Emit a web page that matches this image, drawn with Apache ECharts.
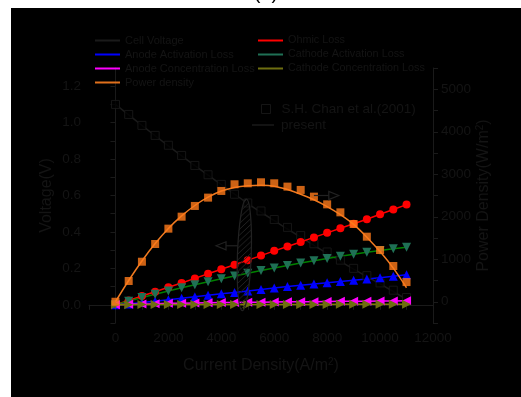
<!DOCTYPE html>
<html>
<head>
<meta charset="utf-8">
<script src="https://cdn.jsdelivr.net/npm/echarts@6/dist/echarts.min.js"></script>
<style>
html,body{margin:0;padding:0;background:#fff;}
#c{width:521px;height:397px;}
</style>
</head>
<body>
<div id="c"></div>
<script>
// ---- data ----
const current = [0,500,1000,1500,2000,2500,3000,3500,4000,4500,5000,5500,6000,6500,7000,7500,8000,8500,9000,9500,10000,10500,11000];
const cellVoltageExp = [1.10,1.045,0.985,0.93,0.876,0.82,0.765,0.714,0.661,0.607,0.559,0.515,0.468,0.425,0.38,0.335,0.29,0.245,0.20,0.16,0.12,0.08,0.04];
const cellVoltageModel = [1.10,1.043,0.985,0.928,0.872,0.818,0.764,0.712,0.66,0.608,0.556,0.508,0.462,0.416,0.372,0.326,0.282,0.238,0.196,0.155,0.115,0.073,0.03];
const ohmicLoss = [0,0.024,0.048,0.072,0.096,0.12,0.145,0.17,0.195,0.22,0.245,0.27,0.296,0.32,0.345,0.37,0.395,0.42,0.445,0.47,0.497,0.523,0.55];
const anodeActLoss = [0,0.005,0.012,0.02,0.028,0.036,0.044,0.052,0.06,0.068,0.076,0.084,0.092,0.1,0.107,0.114,0.121,0.128,0.135,0.142,0.149,0.157,0.165];
const cathodeActLoss = [0,0.02,0.04,0.058,0.076,0.093,0.11,0.127,0.143,0.158,0.173,0.188,0.202,0.216,0.229,0.242,0.254,0.266,0.277,0.288,0.298,0.307,0.316];
const anodeConcLoss = [0,0.003,0.005,0.006,0.008,0.009,0.010,0.011,0.012,0.013,0.014,0.014,0.015,0.016,0.017,0.017,0.018,0.019,0.019,0.020,0.021,0.021,0.022];
const cathodeConcLoss = [0,0,0.001,0.001,0.001,0.001,0.001,0.001,0.002,0.002,0.002,0.002,0.002,0.002,0.002,0.002,0.002,0.003,0.003,0.003,0.003,0.003,0.003];
const powerModel = [0,500,960,1370,1725,2020,2265,2460,2605,2690,2730,2740,2720,2640,2530,2400,2240,2050,1820,1520,1180,790,330];
const powerExp = [0,488,942,1359,1720,2002,2254,2450,2607,2764,2787,2811,2787,2709,2631,2473,2292,2104,1830,1531,1217,841,463];
const xTicks = [0,2000,4000,6000,8000,10000,12000];
const yLeftTicks = [0.0,0.2,0.4,0.6,0.8,1.0,1.2];
const yRightTicks = [0,1000,2000,3000,4000,5000];

(function(){
const pair = arr => current.map((x,i)=>[x,arr[i]]);
const TXT = '#141414';
const AX = '#1a1a1a';
const FONT = 'Liberation Sans, Arial, sans-serif';

const chart = echarts.init(document.getElementById('c'), null, {renderer:'canvas'});

function lineSeries(name, data, color, symbol, rotate, symColor, size){
  return {
    name, type:'line', data: pair(data), yAxisIndex:0,
    symbol, symbolSize: size || 8, symbolRotate: rotate || 0,
    lineStyle:{color, width:1.5}, itemStyle:{color: symColor || color},
    showSymbol: true, animation:false
  };
}

const option = {
  animation:false,
  backgroundColor:'#ffffff',
  textStyle:{fontFamily:FONT},
  grid:{left:89, top:68, width:344, height:255, containLabel:false},
  legend:[
    {data:['Cell Voltage','Anode Activation Loss','Anode Concentration Loss','Power density'],
     orient:'vertical', left:95, top:35, padding:0, itemWidth:25, itemHeight:2, itemGap:3, icon:'rect',
     textStyle:{color:TXT, fontSize:11, fontFamily:FONT, lineHeight:11}, selectedMode:false},
    {data:['Ohmic Loss','Cathode Activation Loss','Cathode Concentration Loss'],
     orient:'vertical', left:258, top:35, padding:0, itemWidth:25, itemHeight:2, itemGap:3, icon:'rect',
     textStyle:{color:TXT, fontSize:10.8, fontFamily:FONT, lineHeight:11}, selectedMode:false},
    {data:[{name:'S.H. Chan et al.(2001)', icon:'rect', itemStyle:{color:'#000', borderColor:AX, borderWidth:1}}],
     left:261, top:102, padding:0, itemWidth:9, itemHeight:9,
     textStyle:{color:TXT, fontSize:13.5, fontFamily:FONT, padding:[0,0,0,6]}, selectedMode:false},
    {data:[{name:'present', icon:'rect'}],
     left:252, top:118, padding:0, itemWidth:22, itemHeight:1.5,
     textStyle:{color:TXT, fontSize:13.5, fontFamily:FONT, padding:[0,0,0,2]}, selectedMode:false}
  ],
  xAxis:{
    type:'value', min:-1000, max:12000, interval:1000,
    axisLine:{lineStyle:{color:AX, width:1}},
    axisTick:{length:5, lineStyle:{color:AX}},
    splitLine:{show:false},
    axisLabel:{color:TXT, fontSize:13.5, margin:8, fontFamily:FONT,
      formatter: v => xTicks.indexOf(v) >= 0 ? String(v) : ''},
    name:'Current Density(A/m{sup|2})', nameLocation:'middle', nameGap:34, nameMoveOverlap:false,
    nameTextStyle:{color:TXT, fontSize:16, fontFamily:FONT,
      rich:{sup:{fontSize:10, color:TXT, padding:[0,0,8,0], fontFamily:FONT}}}
  },
  yAxis:[
    {type:'value', min:-0.1, max:1.3, interval:0.1, position:'left',
     axisLine:{show:true, lineStyle:{color:AX}},
     axisTick:{show:true, length:5, lineStyle:{color:AX}},
     splitLine:{show:false},
     axisLabel:{color:TXT, fontSize:13.5, margin:8, fontFamily:FONT,
       formatter: v => { const k = Math.round(v*10)/10; const idx = yLeftTicks.findIndex(t=>Math.abs(t-k)<1e-9); return (idx>=0 && Math.abs(v-k)<1e-6) ? k.toFixed(1) : ''; }},
     name:'Voltage(V)', nameLocation:'middle', nameGap:34, nameRotate:90, nameMoveOverlap:false,
     nameTextStyle:{color:TXT, fontSize:16, fontFamily:FONT}},
    {type:'value', min:-500, max:5500, interval:500, position:'right',
     axisLine:{show:true, lineStyle:{color:AX}},
     axisTick:{show:true, length:5, lineStyle:{color:AX}},
     splitLine:{show:false},
     axisLabel:{color:TXT, fontSize:13.5, margin:8, fontFamily:FONT,
       formatter: v => yRightTicks.indexOf(v) >= 0 ? String(v) : ''},
     name:'Power Density(W/m{sup|2})', nameLocation:'middle', nameGap:42, nameRotate:90, nameMoveOverlap:false,
     nameTextStyle:{color:TXT, fontSize:16, fontFamily:FONT,
       rich:{sup:{fontSize:10, color:TXT, padding:[0,0,8,0], fontFamily:FONT}}}}
  ],
  graphic:[
    {type:'rect', silent:true, z:-100, shape:{x:11, y:8, width:510, height:389}, style:{fill:'#000'}},
    {type:'text', silent:true, style:{text:'(a)', x:266, y:-7, fill:'#000', fontSize:20, fontFamily:FONT, align:'center', verticalAlign:'middle'}}
  ],
  series:[
    {name:'Cell Voltage', type:'line', data:pair(cellVoltageModel), yAxisIndex:0, showSymbol:false, symbol:'none',
     lineStyle:{color:AX, width:1.5}, itemStyle:{color:AX}, z:3},
    {name:'S.H. Chan et al.(2001)', type:'scatter', data:pair(cellVoltageExp), yAxisIndex:0, symbol:'rect', symbolSize:8,
     itemStyle:{color:'#000', borderColor:AX, borderWidth:1}, z:3},
    {name:'present', type:'line', data:[], lineStyle:{color:AX, width:1.5}, itemStyle:{color:AX}},
    lineSeries('Ohmic Loss', ohmicLoss, '#ff0000', 'circle', 0, '#ff0000', 8),
    lineSeries('Anode Activation Loss', anodeActLoss, '#0000ff', 'triangle', 0, '#0000ff', 9),
    lineSeries('Cathode Activation Loss', cathodeActLoss, '#008000', 'triangle', 180, '#1f7055', 9),
    lineSeries('Anode Concentration Loss', anodeConcLoss, '#ff00ff', 'triangle', 90, '#ff00ff', 9),
    lineSeries('Cathode Concentration Loss', cathodeConcLoss, '#808000', 'triangle', -90, '#6e6e10', 9),
    {name:'Power density', type:'line', data:pair(powerModel), yAxisIndex:1, showSymbol:false, symbol:'none', smooth:0.35,
     lineStyle:{color:'#f07a20', width:1.5}, itemStyle:{color:'#e0701c'}, z:4},
    {name:'Power data', type:'scatter', data:pair(powerExp), yAxisIndex:1, symbol:'rect', symbolSize:8,
     itemStyle:{color:'#ff7a1a'}, z:5}
  ]
};
chart.setOption(option);

// ---- annotation: hatched ellipse and arrows, positioned in data space ----
const P = (x,y,ax) => chart.convertToPixel({xAxisIndex:0, yAxisIndex: ax||0}, [x,y]);
const eTop = P(4870, 0.58), eBot = P(4870, -0.032), eSide = P(5130, 0.27);
const cx = eTop[0], cy = (eTop[1]+eBot[1])/2, ry = (eBot[1]-eTop[1])/2, rx = eSide[0]-cx;
const pc = document.createElement('canvas'); pc.width = 6; pc.height = 6;
const g = pc.getContext('2d'); g.strokeStyle = '#222'; g.lineWidth = 1;
g.beginPath(); g.moveTo(0,6); g.lineTo(6,0); g.stroke();
const la = P(3800, 0.324), lb = P(4620, 0.324);
const ra = P(7500, 0.60), rb = P(8440, 0.60);
function arrow(tip, tail, dir){
  const hx = tip[0] + dir*10, y = tip[1];
  return [
    {type:'polyline', silent:true, z:10, shape:{points:[[hx,y],[tail[0],y]]}, style:{stroke:'#222', lineWidth:1.2, fill:null}},
    {type:'polygon', silent:true, z:10, shape:{points:[[tip[0],y],[hx,y-4],[hx,y+4]]}, style:{stroke:'#222', lineWidth:1.2, fill:'#000'}}
  ];
}
chart.setOption({graphic: option.graphic.concat([
  {type:'ellipse', silent:true, z:10, shape:{cx, cy, rx, ry}, rotation:-0.035, originX:cx, originY:cy,
   style:{fill:{image:pc, repeat:'repeat'}, stroke:'#222', lineWidth:1.2}}
]).concat(arrow(la, lb, 1)).concat(arrow(rb, ra, -1))});
})();
</script>
</body>
</html>
